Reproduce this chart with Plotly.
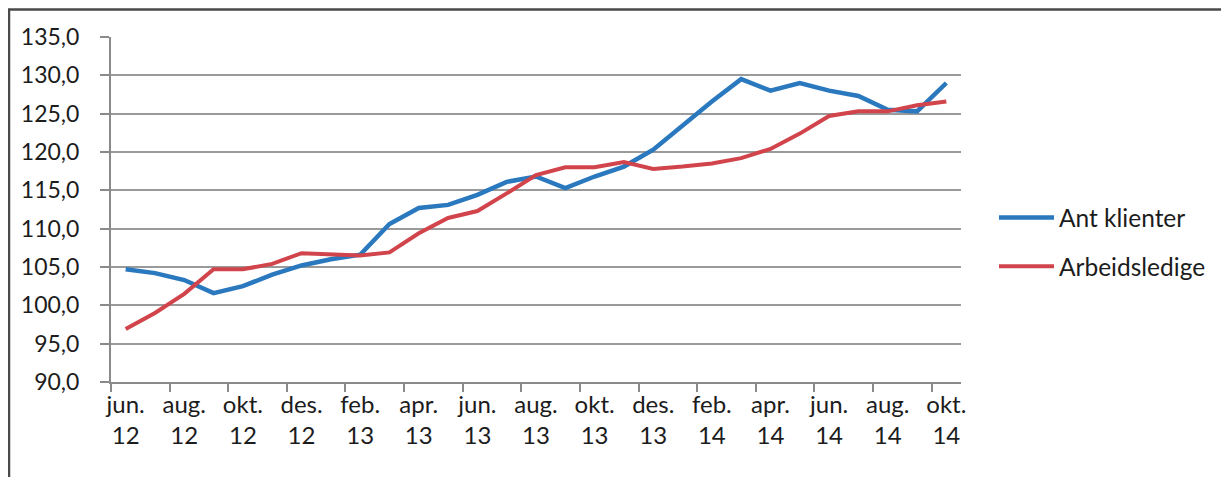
import plotly.graph_objects as go

months = ["jun.<br>12", "jul.<br>12", "aug.<br>12", "sep.<br>12", "okt.<br>12", "nov.<br>12", "des.<br>12",
          "jan.<br>13", "feb.<br>13", "mar.<br>13", "apr.<br>13", "mai<br>13", "jun.<br>13", "jul.<br>13",
          "aug.<br>13", "sep.<br>13", "okt.<br>13", "nov.<br>13", "des.<br>13",
          "jan.<br>14", "feb.<br>14", "mar.<br>14", "apr.<br>14", "mai<br>14", "jun.<br>14", "jul.<br>14",
          "aug.<br>14", "sep.<br>14", "okt.<br>14"]

ant_klienter = [104.7, 104.2, 103.3, 101.6, 102.5, 104.0, 105.2, 106.0, 106.6, 110.6,
                112.7, 113.1, 114.4, 116.1, 116.8, 115.3, 116.8, 118.1, 120.3, 123.4,
                126.6, 129.5, 128.0, 129.0, 128.0, 127.3, 125.5, 125.3, 129.0]

arbeidsledige = [96.9, 99.0, 101.5, 104.7, 104.7, 105.4, 106.8, 106.6, 106.5, 106.9,
                 109.4, 111.4, 112.3, 114.6, 117.0, 118.0, 118.0, 118.7, 117.8, 118.1,
                 118.5, 119.2, 120.4, 122.4, 124.7, 125.3, 125.3, 126.1, 126.6]

y_ticks = [90, 95, 100, 105, 110, 115, 120, 125, 130, 135]
y_labels = [f"{v:.1f}".replace(".", ",") for v in y_ticks]

FONT = "Lato"
TXT = "#1c1c1c"
# page has an 8px body margin, so the figure is sized/offset to compensate
W, H = 1221, 469
L, R, T, B = 103, 268, 29, 95
pw, ph = W - L - R, H - T - B

fig = go.Figure()
fig.add_trace(go.Scatter(x=months, y=ant_klienter, mode="lines", name="Ant klienter",
                         line=dict(color="#2a78be", width=4.5), legendgroup="a"))
fig.add_trace(go.Scatter(x=months, y=arbeidsledige, mode="lines", name="Arbeidsledige",
                         line=dict(color="#d2444c", width=4), legendgroup="b"))

# outer frame (left and top edges visible; others run off the page)
fig.add_shape(type="rect", xref="paper", yref="paper",
              x0=(1 - L) / pw, x1=(W + 10 - L) / pw,
              y0=-(H + 10 - (H - B)) / ph, y1=1 + (T - 1.5) / ph,
              line=dict(color="#4a4a4a", width=2.5), fillcolor="rgba(0,0,0,0)", layer="below")

fig.update_layout(
    template="none",
    width=W, height=H,
    margin=dict(l=L, r=R, t=T, b=B, autoexpand=False),
    paper_bgcolor="white", plot_bgcolor="white",
    font=dict(family=FONT, size=22, color=TXT),
    showlegend=True,
    legend=dict(xref="container", yref="container", x=986 / W, y=1 - 234 / H,
                xanchor="left", yanchor="middle", font=dict(size=24.5, color=TXT),
                tracegroupgap=14, itemwidth=55, bgcolor="rgba(0,0,0,0)"),
    xaxis=dict(type="category", range=[-0.5, 28.5], tickson="boundaries", dtick=2, tick0=0,
               ticks="outside", ticklen=8, tickcolor="#8a8a8a", tickwidth=1.5,
               showline=True, linecolor="#8a8a8a", linewidth=2, showgrid=False,
               tickfont=dict(size=24, family=FONT, color=TXT), tickangle=0,
               automargin=False),
    yaxis=dict(range=[90, 135], tickvals=y_ticks, ticktext=y_labels,
               ticks="outside", ticklen=9, tickcolor="#8a8a8a", tickwidth=1.5,
               showline=True, linecolor="#8a8a8a", linewidth=2,
               showgrid=True, gridcolor="#9a9a9a", gridwidth=2, zeroline=False,
               tickfont=dict(size=23, family=FONT, color=TXT),
               ticklabelstandoff=16, automargin=False),
)

fig.write_html("out.html")
